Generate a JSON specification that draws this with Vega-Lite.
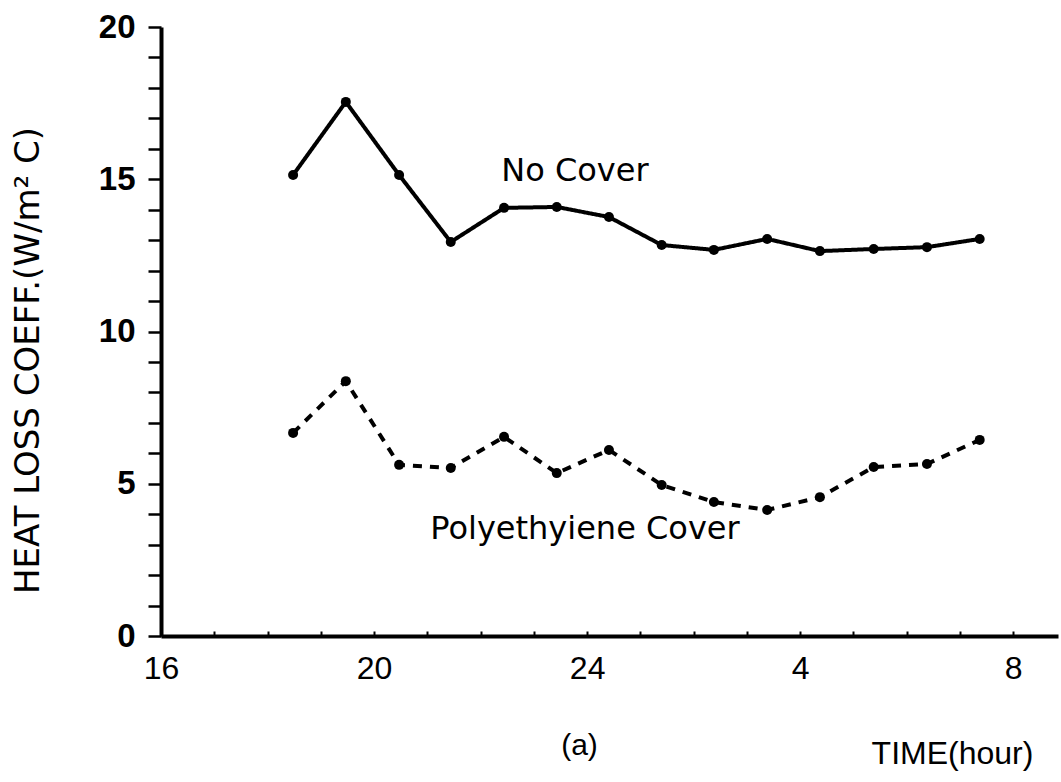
{
  "$schema": "https://vega.github.io/schema/vega-lite/v6.json",
  "width": 897,
  "height": 609,
  "autosize": "none",
  "padding": {"left": 161, "top": 27, "right": 3, "bottom": 146},
  "background": "white",
  "config": {"view": {"stroke": null}, "font": "Liberation Sans"},
  "title": {"text": "(a)", "orient": "bottom", "anchor": "middle", "frame": "group", "fontSize": 30, "fontWeight": "normal", "font": "Liberation Sans", "color": "black", "dx": -30, "dy": -38, "offset": 0},
  "datasets": {
    "pts": [
      {"x": 18.48, "y": 15.14, "series": "No Cover"},
      {"x": 19.47, "y": 17.54, "series": "No Cover"},
      {"x": 20.47, "y": 15.14, "series": "No Cover"},
      {"x": 21.44, "y": 12.94, "series": "No Cover"},
      {"x": 22.44, "y": 14.06, "series": "No Cover"},
      {"x": 23.43, "y": 14.09, "series": "No Cover"},
      {"x": 24.41, "y": 13.76, "series": "No Cover"},
      {"x": 25.40, "y": 12.84, "series": "No Cover"},
      {"x": 26.38, "y": 12.68, "series": "No Cover"},
      {"x": 27.38, "y": 13.04, "series": "No Cover"},
      {"x": 28.37, "y": 12.64, "series": "No Cover"},
      {"x": 29.38, "y": 12.71, "series": "No Cover"},
      {"x": 30.38, "y": 12.77, "series": "No Cover"},
      {"x": 31.37, "y": 13.04, "series": "No Cover"},
      {"x": 18.48, "y": 6.67, "series": "Polyethylene Cover"},
      {"x": 19.47, "y": 8.37, "series": "Polyethylene Cover"},
      {"x": 20.47, "y": 5.62, "series": "Polyethylene Cover"},
      {"x": 21.44, "y": 5.52, "series": "Polyethylene Cover"},
      {"x": 22.44, "y": 6.54, "series": "Polyethylene Cover"},
      {"x": 23.43, "y": 5.35, "series": "Polyethylene Cover"},
      {"x": 24.41, "y": 6.11, "series": "Polyethylene Cover"},
      {"x": 25.40, "y": 4.96, "series": "Polyethylene Cover"},
      {"x": 26.38, "y": 4.40, "series": "Polyethylene Cover"},
      {"x": 27.38, "y": 4.14, "series": "Polyethylene Cover"},
      {"x": 28.37, "y": 4.56, "series": "Polyethylene Cover"},
      {"x": 29.38, "y": 5.55, "series": "Polyethylene Cover"},
      {"x": 30.38, "y": 5.65, "series": "Polyethylene Cover"},
      {"x": 31.37, "y": 6.44, "series": "Polyethylene Cover"}
    ],
    "labels": [
      {"x": 23.77, "y": 14.94, "label": "No Cover"},
      {"x": 23.96, "y": 3.19, "label": "Polyethyiene Cover"}
    ]
  },
  "encoding": {
    "x": {
      "field": "x", "type": "quantitative",
      "scale": {"domain": [16, 32.84], "nice": false, "zero": false},
      "axis": {
        "values": [16,17,18,19,20,21,22,23,24,25,26,27,28,29,30,31,32],
        "labelExpr": "datum.value % 4 == 0 ? (datum.value == 24 ? '24' : '' + (datum.value % 24)) : ''",
        "labelOverlap": false, "labelFlush": false,
        "grid": false, "domainWidth": 4, "domainColor": "black",
        "tickSize": -5, "tickWidth": 2, "tickColor": "black",
        "labelFontSize": 32, "labelColor": "black", "labelPadding": 22,
        "title": "TIME(hour)", "titleFontSize": 32, "titleFontWeight": "normal", "titleColor": "black",
        "titleX": 791, "titleY": 127, "titleAlign": "center", "titleBaseline": "alphabetic"
      }
    },
    "y": {
      "field": "y", "type": "quantitative",
      "scale": {"domain": [0, 20], "nice": false},
      "axis": {
        "values": [0,1,2,3,4,5,6,7,8,9,10,11,12,13,14,15,16,17,18,19,20],
        "labelExpr": "datum.value % 5 == 0 ? datum.label : ''",
        "labelOverlap": false, "grid": false,
        "domainWidth": 4, "domainColor": "black",
        "tickSize": 13, "tickWidth": 2.5, "tickColor": "black",
        "labelFontSize": 33, "labelFontWeight": "bold", "labelColor": "black", "labelPadding": 13,
        "title": "HEAT LOSS COEFF.(W/m² C)", "titleFont": "DejaVu Sans", "titleFontSize": 34, "titleFontWeight": "normal", "titleColor": "black",
        "titleX": -123, "titleY": 333, "titleAngle": -90, "titleAlign": "center", "titleBaseline": "alphabetic"
      }
    }
  },
  "layer": [
    {
      "data": {"name": "pts"},
      "mark": {"type": "line", "color": "black", "strokeWidth": 4},
      "encoding": {
        "detail": {"field": "series"},
        "strokeDash": {"field": "series", "type": "nominal", "scale": {"domain": ["No Cover", "Polyethylene Cover"], "range": [[1, 0], [9, 8]]}, "legend": null}
      }
    },
    {
      "data": {"name": "pts"},
      "mark": {"type": "point", "filled": true, "color": "black", "size": 100, "opacity": 1}
    },
    {
      "data": {"name": "labels"},
      "mark": {"type": "text", "font": "DejaVu Sans", "fontSize": 32, "align": "center", "baseline": "alphabetic", "color": "black"},
      "encoding": {"text": {"field": "label"}}
    }
  ]
}
